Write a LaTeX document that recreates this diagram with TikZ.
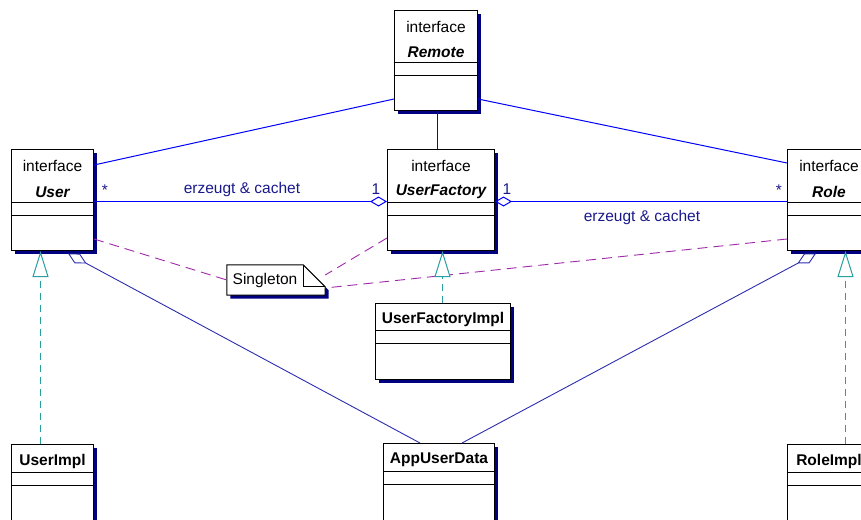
\documentclass[tikz,border=0pt]{standalone}
\usepackage{fontspec}
\setmainfont{Liberation Sans}
\usetikzlibrary{arrows.meta,shadows}
\definecolor{shadowblue}{RGB}{0,0,128}
\definecolor{assoc}{RGB}{0,0,255}
\definecolor{aggr}{RGB}{45,45,175}
\definecolor{labelblue}{RGB}{25,25,140}
\definecolor{notelink}{RGB}{160,40,170}
\definecolor{realize}{RGB}{40,160,160}

% horizontal compartment lines of a class box, measured from its top edge
\newcommand\classcompartments[3]{%
  \draw[line width=1pt] ([yshift=-#2pt]#1.north west) -- ([yshift=-#2pt]#1.north east)
                        ([yshift=-#3pt]#1.north west) -- ([yshift=-#3pt]#1.north east);}

\begin{document}
\begin{tikzpicture}[x=1pt,y=-1pt,
  font=\fontsize{15.5}{18}\selectfont,
  cls/.style={draw=black, fill=white, line width=1pt, anchor=north west, inner sep=0pt,
    drop shadow={shadow xshift=3.5pt, shadow yshift=-3.5pt, fill=shadowblue, opacity=1}},
  stereo/.style={inner sep=0pt},
  iname/.style={inner sep=0pt, font=\fontsize{15.5}{18}\selectfont\bfseries\itshape},
  cname/.style={inner sep=0pt, font=\fontsize{15.5}{18}\selectfont\bfseries},
  assocline/.style={draw=assoc, line width=1pt},
  aggline/.style={draw=aggr, line width=0.9pt, -{Diamond[open, length=21pt, width=11pt]}},
  ownerline/.style={assocline, -{Diamond[open, length=17pt, width=10pt, line width=1pt]}},
  realline/.style={draw=realize, line width=1pt, dash pattern=on 7pt off 5pt,
    -{Triangle[length=26pt, width=16pt, fill=white]}},
  notelinkline/.style={draw=notelink, line width=0.9pt, dash pattern=on 10pt off 6pt},
  mult/.style={inner sep=0pt, text=labelblue},
  rolelabel/.style={inner sep=0pt, text=labelblue}]

\useasboundingbox (0,0) rectangle (861,519);
\clip (0,0) rectangle (861,519);

% ---- class boxes ----
\node[cls, minimum width=83pt,  minimum height=100pt] (remote)   at (394,10)  {};
\node[cls, minimum width=82pt,  minimum height=101pt] (user)     at (11,149)  {};
\node[cls, minimum width=107pt, minimum height=101pt] (uf)       at (387,149) {};
\node[cls, minimum width=83pt,  minimum height=101pt] (role)     at (787,149) {};
\node[cls, minimum width=135pt, minimum height=76pt]  (ufimpl)   at (375,303) {};
\node[cls, minimum width=82pt,  minimum height=100pt] (userimpl) at (11,444)  {};
\node[cls, minimum width=111pt, minimum height=100pt] (appdata)  at (383,443) {};
\node[cls, minimum width=83pt,  minimum height=100pt] (roleimpl) at (787,444) {};

\classcompartments{remote}{52}{65}
\classcompartments{user}{53}{66}
\classcompartments{uf}{53}{66}
\classcompartments{role}{53}{66}
\classcompartments{ufimpl}{27}{40}
\classcompartments{userimpl}{28}{41}
\classcompartments{appdata}{28}{41}
\classcompartments{roleimpl}{28}{41}

% ---- class names ----
\node[stereo] (remote-st) at ([yshift=-17pt]remote.north) {interface};
\node[iname]  (remote-nm) at ([yshift=-42pt]remote.north) {Remote};
\node[stereo] (user-st)   at ([yshift=-17pt]user.north) {interface};
\node[iname]  (user-nm)   at ([yshift=-43pt]user.north) {User};
\node[stereo] (uf-st)     at ([yshift=-17pt]uf.north) {interface};
\node[iname]  (uf-nm)     at ([yshift=-43pt]uf.north) {UserFactory};
\node[stereo] (role-st)   at ([yshift=-17pt]role.north) {interface};
\node[iname]  (role-nm)   at ([yshift=-43pt]role.north) {Role};
\node[cname]  (ufimpl-nm)   at ([yshift=-16pt]ufimpl.north) {UserFactoryImpl};
\node[cname]  (userimpl-nm) at ([yshift=-17pt]userimpl.north) {UserImpl};
\node[cname]  (appdata-nm)  at ([yshift=-17pt]appdata.north) {AppUserData};
\node[cname]  (roleimpl-nm) at ([yshift=-17pt]roleimpl.north) {RoleImpl};

% ---- Singleton note ----
\node[minimum width=98pt, minimum height=30pt, inner sep=0pt] (note) at (276,280) {};
\fill[shadowblue] ([shift={(3.5pt,-3.5pt)}]note.north west) -- ([shift={(-18.5pt,-3.5pt)}]note.north east)
  -- ([shift={(3.5pt,-25.5pt)}]note.north east) -- ([shift={(3.5pt,-3.5pt)}]note.south east)
  -- ([shift={(3.5pt,-3.5pt)}]note.south west) -- cycle;
\draw[line width=1pt, fill=white] (note.north west) -- ([xshift=-22pt]note.north east)
  -- ([yshift=-22pt]note.north east) -- (note.south east) -- (note.south west) -- cycle;
\draw[line width=1pt] ([xshift=-22pt]note.north east) -- ([xshift=-22pt,yshift=-22pt]note.north east)
  -- ([yshift=-22pt]note.north east);
\node[inner sep=0pt] (note-text) at ([xshift=-11pt]note.center) {Singleton};

% ---- generalisation of the interfaces to Remote ----
\draw[assocline] ([yshift=12pt]remote.south west) -- ([yshift=-16pt]user.north east);
\draw[assocline] ([yshift=12pt]remote.south east) -- ([yshift=-14pt]role.north west);
\draw[assocline] (remote.south -| 437.5,0) -- (uf.north -| 437.5,0);

% ---- factory associations ----
\draw[ownerline] ([yshift=-52.5pt]user.north east) -- ([yshift=-52.5pt]uf.north west);
\draw[ownerline] ([yshift=-52.5pt]role.north west) -- ([yshift=-52.5pt]uf.north east);
\node[mult] (m-user)  at (105,190) {*};
\node[mult] (m-uf1)   at (376,189) {1};
\node[mult] (m-uf2)   at (507,189) {1};
\node[mult] (m-role)  at (779,190) {*};
\node[rolelabel] (lbl-user) at (242,189) {erzeugt \& cachet};
\node[rolelabel] (lbl-role) at (642,217) {erzeugt \& cachet};

% ---- note attachments ----
\draw[notelinkline] ([yshift=12pt]user.south east) -- (note.west);
\draw[notelinkline] ([yshift=13pt]uf.south west) -- ([yshift=5pt]note.east);
\draw[notelinkline] ([yshift=12pt]role.south west) -- ([yshift=-8pt]note.east);

% ---- realisations ----
\draw[realline] (userimpl.north -| 40.5,0) -- (user.south -| 40.5,0);
\draw[realline] (ufimpl.north -| 442.5,0) -- (uf.south -| 442.5,0);
\draw[realline] (roleimpl.north -| 845.5,0) -- (role.south -| 845.5,0);

% ---- aggregations of AppUserData ----
\draw[aggline] (appdata.north -| 420,0) -- ([yshift=-2.5pt]user.south -| 68,0);
\draw[aggline] (appdata.north -| 462,0) -- ([yshift=-2.5pt]role.south -| 816,0);
\end{tikzpicture}
\end{document}
